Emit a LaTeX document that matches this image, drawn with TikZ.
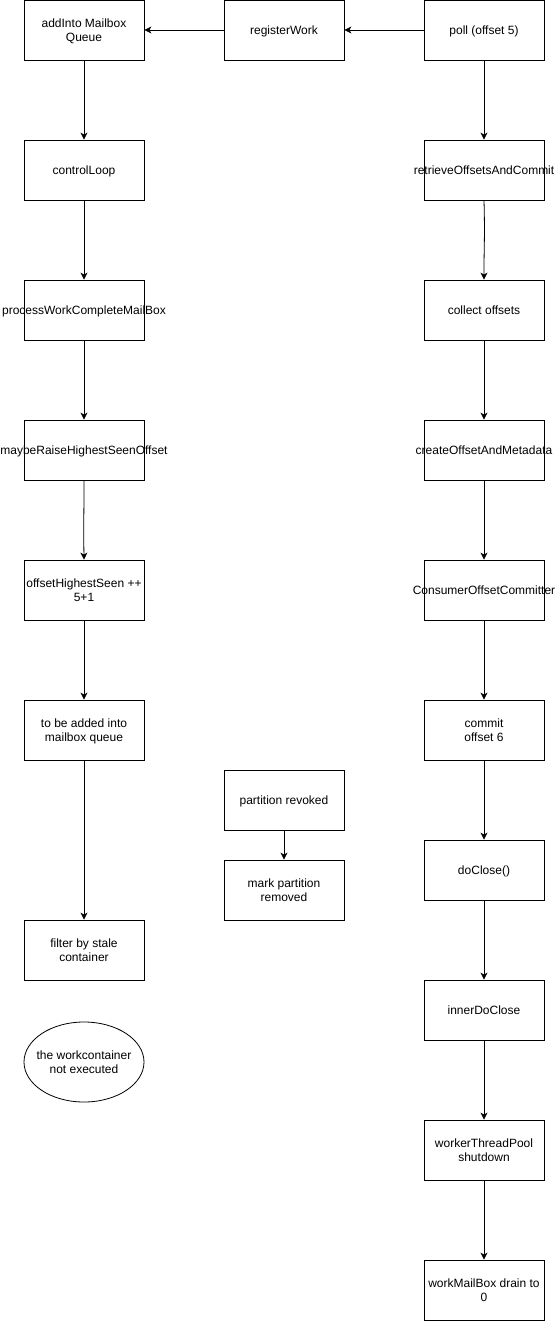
\documentclass[tikz,border=0pt]{standalone}
\usepackage{fontspec}
\setmainfont{Liberation Sans}
\usetikzlibrary{arrows.meta,shapes.geometric}
\newcommand{\ztext}[1]{\raisebox{-5pt}[0pt][0pt]{\makebox[0pt][c]{\begin{tabular}{@{}c@{}}#1\end{tabular}}}}
\tikzset{
  every picture/.style={x=1pt,y=-1pt},
  box/.style={draw,line width=0.8pt,minimum width=120pt,minimum height=60pt,inner sep=0pt,align=center,font=\fontsize{12}{14}\selectfont},
  oval/.style={draw,line width=0.8pt,ellipse,minimum width=120pt,minimum height=80pt,inner sep=0pt,align=center,font=\fontsize{12}{14}\selectfont},
  conn/.style={draw,line width=0.8pt,-{Stealth[length=7pt,width=7pt,inset=2pt]}},
}
\begin{document}
\begin{tikzpicture}
\useasboundingbox (0,0) rectangle (555,1321);
% left column
\node[box] (add) at (84,30) {\ztext{addInto Mailbox\\Queue}};
\node[box] (ctrl) at (84,170) {\ztext{controlLoop}};
\node[box] (proc) at (84,310) {\ztext{processWorkCompleteMailBox}};
\node[box] (maybe) at (84,450) {\ztext{maybeRaiseHighestSeenOffset}};
\node[box] (ohs) at (84,590) {\ztext{offsetHighestSeen ++\\5+1}};
\node[box] (tba) at (84,730) {\ztext{to be added into\\mailbox queue}};
\node[box] (filt) at (84,950) {\ztext{filter by stale\\container}};
\node[oval] (wc) at (84,1062) {\ztext{the workcontainer\\not executed}};
% middle column
\node[box] (reg) at (284,30) {\ztext{registerWork}};
\node[box] (prev) at (284,800) {\ztext{partition revoked}};
\node[box] (mark) at (284,890) {\ztext{mark partition\\removed}};
% right column
\node[box] (poll) at (484,30) {\ztext{poll (offset 5)}};
\node[box] (retr) at (484,170) {\ztext{retrieveOffsetsAndCommit}};
\node[box] (coll) at (484,310) {\ztext{collect offsets}};
\node[box] (cre) at (484,450) {\ztext{createOffsetAndMetadata}};
\node[box] (coc) at (484,590) {\ztext{ConsumerOffsetCommitter}};
\node[box] (com) at (484,730) {\ztext{commit\\offset 6}};
\node[box] (dcl) at (484,870) {\ztext{doClose()}};
\node[box] (idc) at (484,1010) {\ztext{innerDoClose}};
\node[box] (wtp) at (484,1150) {\ztext{workerThreadPool\\shutdown}};
\node[box] (wmb) at (484,1290) {\ztext{workMailBox drain to\\0}};
% connectors
\draw[conn] (poll) -- (reg);
\draw[conn] (reg) -- (add);
\draw[conn] (add) -- (ctrl);
\draw[conn] (ctrl) -- (proc);
\draw[conn] (proc) -- (maybe);
\draw[conn] (maybe.south) .. controls (84,520) and (83.5,520) .. (ohs.north);
\draw[conn] (ohs) -- (tba);
\draw[conn] (tba) -- (filt);
\draw[conn] (prev) -- (mark);
\draw[conn] (poll) -- (retr);
\draw[conn] (retr.south) .. controls (485,240) and (484,240) .. (coll.north);
\draw[conn] (coll) -- (cre);
\draw[conn] (cre) -- (coc);
\draw[conn] (coc) -- (com);
\draw[conn] (com) -- (dcl);
\draw[conn] (dcl) -- (idc);
\draw[conn] (idc) -- (wtp);
\draw[conn] (wtp) -- (wmb);
\end{tikzpicture}
\end{document}
